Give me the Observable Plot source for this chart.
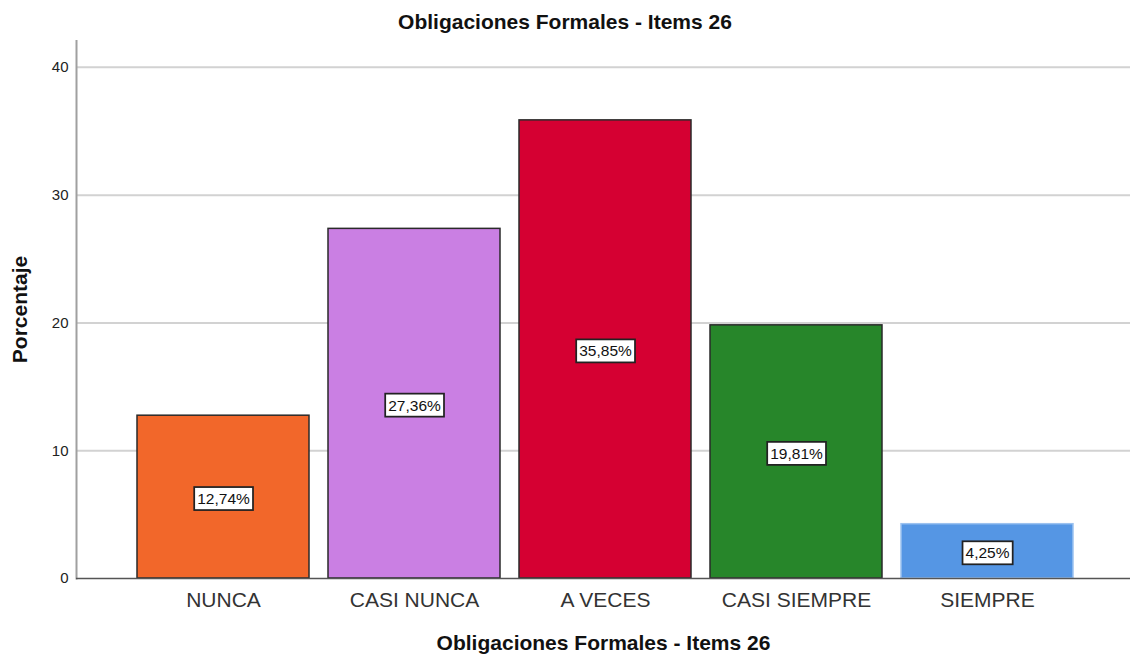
<!DOCTYPE html>
<html>
<head>
<meta charset="utf-8">
<script src="https://cdn.jsdelivr.net/npm/d3@7"></script>
<script src="https://cdn.jsdelivr.net/npm/@observablehq/plot@0.6"></script>
<style>
  body { margin: 0; background: #fff; font-family: "Liberation Sans", Arial, sans-serif; }
  #title { width: 1130px; height: 40px; line-height: 44px; text-align: center; font-weight: bold; font-size: 21px; color: #111; }
</style>
</head>
<body>
<div id="title">Obligaciones Formales - Items 26</div>
<div id="chart"></div>
<script>
const categories = ["NUNCA", "CASI NUNCA", "A VECES", "CASI SIEMPRE", "SIEMPRE"];
const percentages = [12.74, 27.36, 35.85, 19.81, 4.25];
const valueLabels = ["12,74%", "27,36%", "35,85%", "19,81%", "4,25%"];
const barColors = ["#F2672A", "#CA7FE3", "#D50032", "#27862A", "#5596E4"];
const yTicks = [0, 10, 20, 30, 40];
const xTitle = "Obligaciones Formales - Items 26";
const yTitle = "Porcentaje";

const data = categories.map((c, i) => ({cat: c, pct: percentages[i], label: valueLabels[i]}));

const chart = Plot.plot({
  width: 1130,
  height: 615,
  marginTop: 0,
  marginBottom: 77,
  marginLeft: 76,
  marginRight: 0,
  style: {fontFamily: "'Liberation Sans', Arial, sans-serif", background: "#fff"},
  x: {domain: categories, range: [127.45, 1082.45], paddingInner: 0.1, paddingOuter: 0.05, axis: null},
  y: {domain: [0, 42.1], axis: null},
  color: {domain: categories, range: barColors},
  marks: [
    Plot.gridY(yTicks.filter(t => t > 0), {stroke: "#d2d2d2", strokeOpacity: 1, strokeWidth: 2}),
    Plot.frame({anchor: "left", stroke: "#a0a0a0", strokeWidth: 2}),
    Plot.axisY(yTicks, {tickSize: 0, tickPadding: 8, fontSize: 15, fill: "#222", label: null, tickFormat: d => String(d)}),
    Plot.barY(data, {x: "cat", y: "pct", fill: "cat",
      stroke: d => d.cat === "SIEMPRE" ? "#9cc2f0" : "#2a2a2a", strokeWidth: 1.5}),
    Plot.ruleY([0], {stroke: "#555", strokeWidth: 1.5}),
    Plot.axisX(categories, {tickSize: 0, tickPadding: 14, fontSize: 21, fill: "#333", label: null}),
    Plot.text(data, {x: "cat", y: d => d.pct / 2, dy: 2, text: "label", fontSize: 15.5, fill: "#111", className: "vlabel"}),
    Plot.text([xTitle], {frameAnchor: "bottom", lineAnchor: "middle", dy: 65, fontSize: 21, fontWeight: "bold", fill: "#111"}),
    Plot.text([yTitle], {frameAnchor: "left", textAnchor: "middle", lineAnchor: "middle", dx: -56, rotate: -90, fontSize: 21, fontWeight: "bold", fill: "#111"})
  ]
});

document.getElementById("chart").appendChild(chart);

// draw white boxes behind the value labels
d3.select(chart).selectAll("g.vlabel text").each(function() {
  const bb = this.getBBox();
  const parent = this.parentNode;
  const tr = this.getAttribute("transform");
  const cy = bb.y + bb.height / 2;
  const h = 23;
  const rect = document.createElementNS("http://www.w3.org/2000/svg", "rect");
  rect.setAttribute("x", bb.x - 3);
  rect.setAttribute("y", cy - h / 2);
  rect.setAttribute("width", bb.width + 6);
  rect.setAttribute("height", h);
  rect.setAttribute("fill", "#fff");
  rect.setAttribute("stroke", "#222");
  rect.setAttribute("stroke-width", 1.75);
  if (tr) rect.setAttribute("transform", tr);
  parent.insertBefore(rect, this);
});
</script>
</body>
</html>
